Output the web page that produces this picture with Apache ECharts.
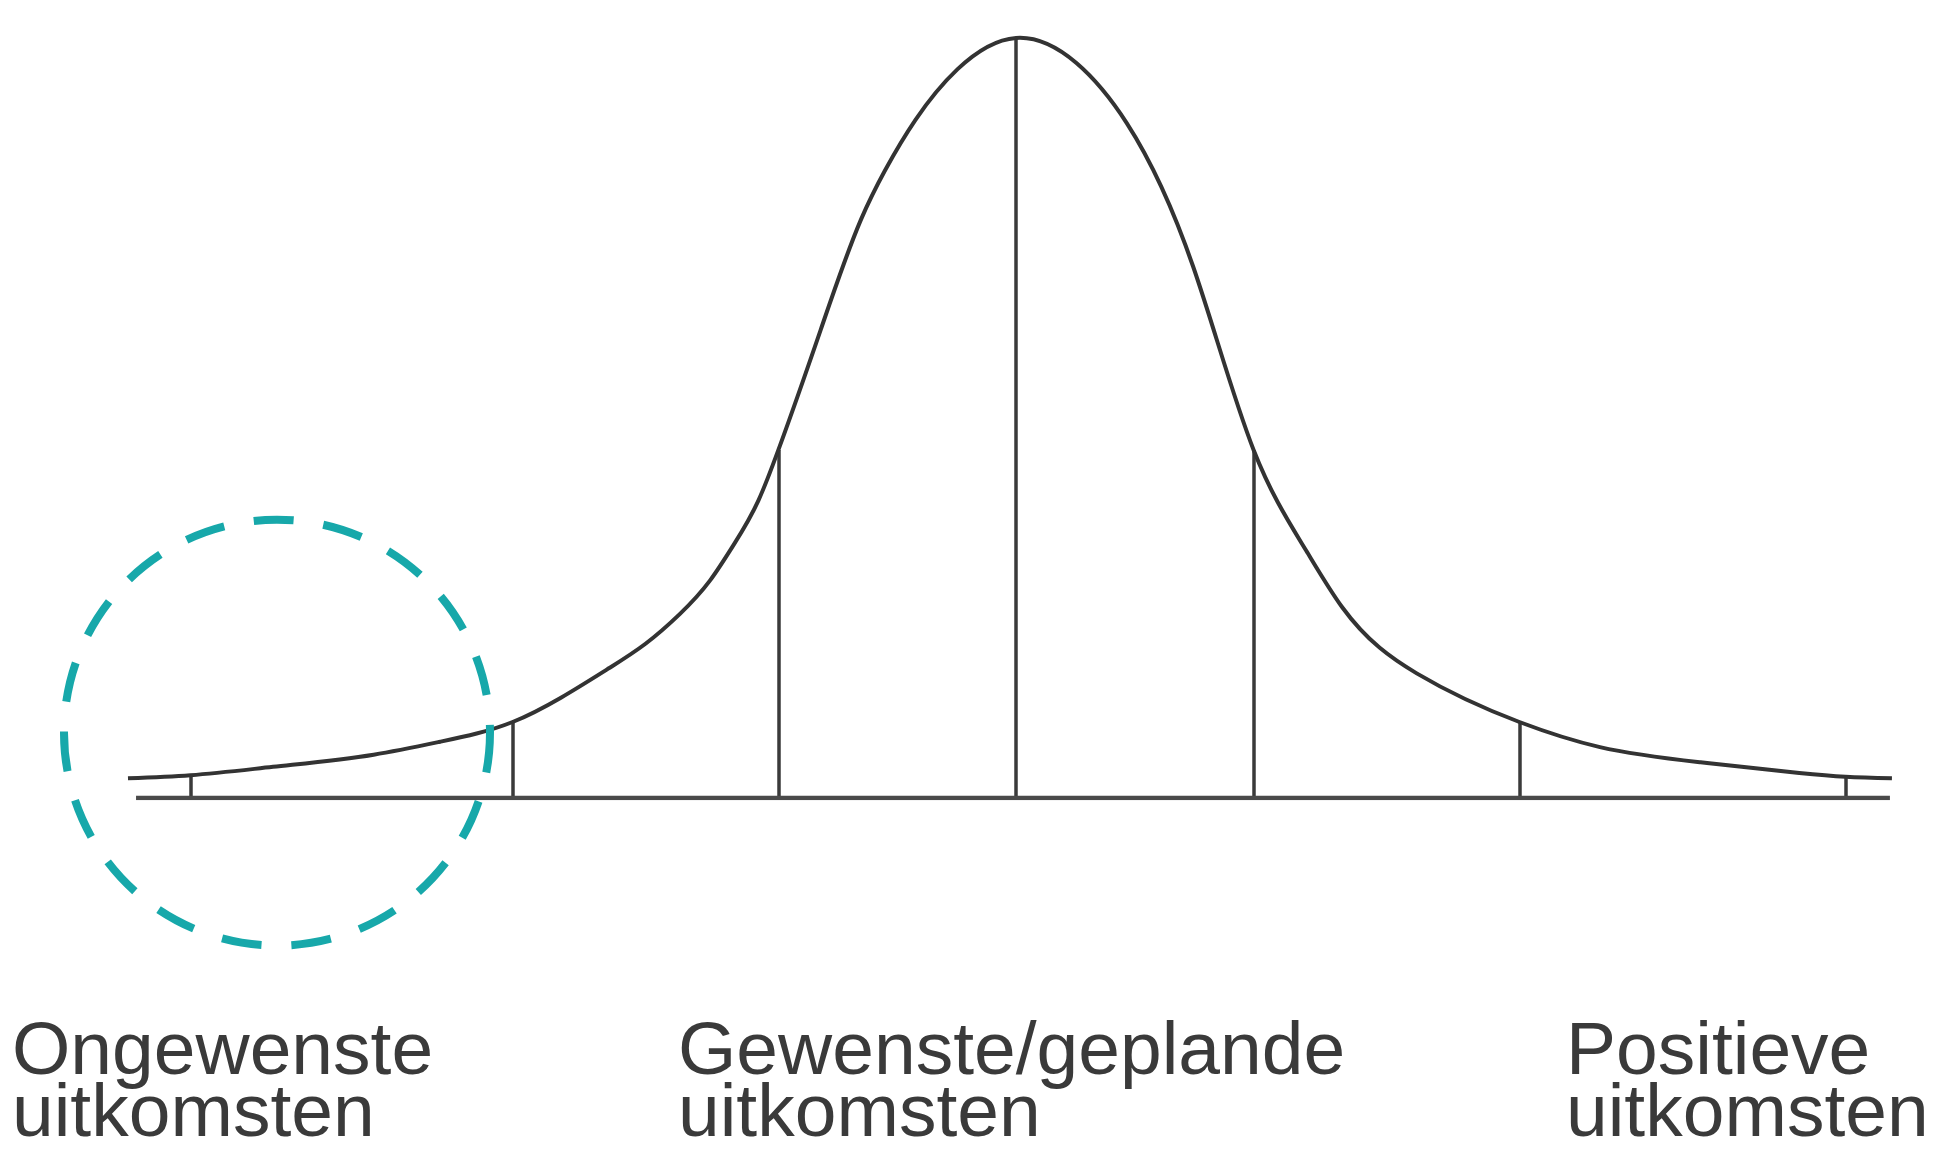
<!DOCTYPE html>
<html>
<head>
<meta charset="utf-8">
<script src="https://cdn.jsdelivr.net/npm/echarts@6/dist/echarts.min.js"></script>
<style>
  html, body { margin: 0; padding: 0; background: #ffffff; }
  #chart { width: 1934px; height: 1159px; }
</style>
</head>
<body>
<div id="chart"></div>
<script>
// Curve (x in arbitrary outcome units, y = relative height, peak = 1)
const curveX = [-4.41, -4.10, -3.69, -3.19, -2.86, -2.50, -2.26, -2.02, -1.84, -1.67, -1.52, -1.40, -1.28, -1.18, -0.97, -0.77, -0.65, -0.50, -0.29, 0.00,
                0.30, 0.55, 0.88, 1.18, 1.44, 1.62, 1.99, 2.50, 2.90, 3.40, 3.89, 4.12, 4.35];
const curveY = [0.026, 0.030, 0.041, 0.057, 0.074, 0.100, 0.132, 0.171, 0.203, 0.242, 0.286, 0.334, 0.391, 0.458, 0.616, 0.761, 0.826, 0.892, 0.959, 1.000,
                0.967, 0.888, 0.699, 0.458, 0.326, 0.251, 0.164, 0.100, 0.067, 0.047, 0.033, 0.028, 0.026];
// Vertical division lines: position and the curve height they reach
const tickX   = [-4.10, -2.50, -1.18, 0.00, 1.18, 2.50, 4.12];
const tickTop = [0.030, 0.100, 0.458, 1.000, 0.458, 0.100, 0.028];
// Baseline extent
const baseX = [-4.37, 4.34];
// Highlight circle (centre in data units)
const highlight = [[-3.67, 0.086]];
// Labels
const labels = [
  'Ongewenste\nuitkomsten',
  'Gewenste/geplande\nuitkomsten',
  'Positieve\nuitkomsten'
];

const chart = echarts.init(document.getElementById('chart'), null, { renderer: 'canvas' });

const labelFont = '75px "Liberation Sans", Arial, sans-serif';
const labelX = [12, 678, 1566];
const curveData = curveX.map((x, i) => [x, curveY[i]]);

// Natural cubic spline y(x) through pixel points, written as cubic Bezier segments
function splinePath(pts) {
  const n = pts.length;
  const x = pts.map(p => p[0]), y = pts.map(p => p[1]);
  const h = [];
  for (let i = 0; i < n - 1; i++) h.push(x[i + 1] - x[i]);
  const a = new Array(n).fill(0), b = new Array(n).fill(1), c = new Array(n).fill(0), r = new Array(n).fill(0);
  for (let i = 1; i < n - 1; i++) {
    a[i] = h[i - 1];
    b[i] = 2 * (h[i - 1] + h[i]);
    c[i] = h[i];
    r[i] = 6 * ((y[i + 1] - y[i]) / h[i] - (y[i] - y[i - 1]) / h[i - 1]);
  }
  for (let i = 1; i < n; i++) {
    const w = a[i] / b[i - 1];
    b[i] -= w * c[i - 1];
    r[i] -= w * r[i - 1];
  }
  const M = new Array(n).fill(0);
  M[n - 1] = r[n - 1] / b[n - 1];
  for (let i = n - 2; i >= 0; i--) M[i] = (r[i] - c[i] * M[i + 1]) / b[i];
  let str = 'M' + x[0] + ' ' + y[0];
  for (let i = 0; i < n - 1; i++) {
    const hi = h[i];
    const s = (y[i + 1] - y[i]) / hi;
    const d0 = s - hi * (2 * M[i] + M[i + 1]) / 6;
    const d1 = s + hi * (M[i] + 2 * M[i + 1]) / 6;
    str += ' C' + (x[i] + hi / 3) + ' ' + (y[i] + d0 * hi / 3) + ' ' +
           (x[i + 1] - hi / 3) + ' ' + (y[i + 1] - d1 * hi / 3) + ' ' + x[i + 1] + ' ' + y[i + 1];
  }
  return str;
}

const option = {
  backgroundColor: '#ffffff',
  animation: false,
  grid: { left: 130, right: 32, top: 38, bottom: 361, containLabel: false },
  xAxis: { type: 'value', min: -4.4, max: 4.4, show: false },
  yAxis: { type: 'value', min: 0, max: 1, show: false },
  series: [
    {
      type: 'line',
      data: baseX.map(x => [x, 0]),
      symbol: 'none',
      lineStyle: { color: '#4a4a4a', width: 4.5 },
      silent: true,
      z: 2
    },
    {
      type: 'lines',
      coordinateSystem: 'cartesian2d',
      data: tickX.map((x, i) => ({ coords: [[x, 0], [x, tickTop[i]]] })),
      lineStyle: { color: '#3a3a3a', width: 3.5, opacity: 1 },
      silent: true,
      z: 2
    },
    {
      type: 'custom',
      data: curveData,
      silent: true,
      z: 3,
      renderItem: function (params, api) {
        if (params.dataIndex !== 0) return null;
        const pts = curveData.map(p => api.coord(p));
        return {
          type: 'path',
          shape: { pathData: splinePath(pts) },
          style: { fill: null, stroke: '#333333', lineWidth: 4 }
        };
      }
    },
    {
      type: 'custom',
      data: highlight,
      silent: true,
      z: 5,
      renderItem: function (params, api) {
        const c = api.coord([api.value(0), api.value(1)]);
        return {
          type: 'circle',
          shape: { cx: c[0], cy: c[1], r: 213 },
          style: { fill: null, stroke: '#17a8aa', lineWidth: 8, lineDash: [40, 30] }
        };
      }
    }
  ],
  graphic: labels.map((t, i) => ({
    type: 'text',
    left: labelX[i],
    top: 1016,
    style: {
      text: t,
      font: labelFont,
      lineHeight: 62,
      fill: '#3a3a3a'
    }
  }))
};

chart.setOption(option);
</script>
</body>
</html>
